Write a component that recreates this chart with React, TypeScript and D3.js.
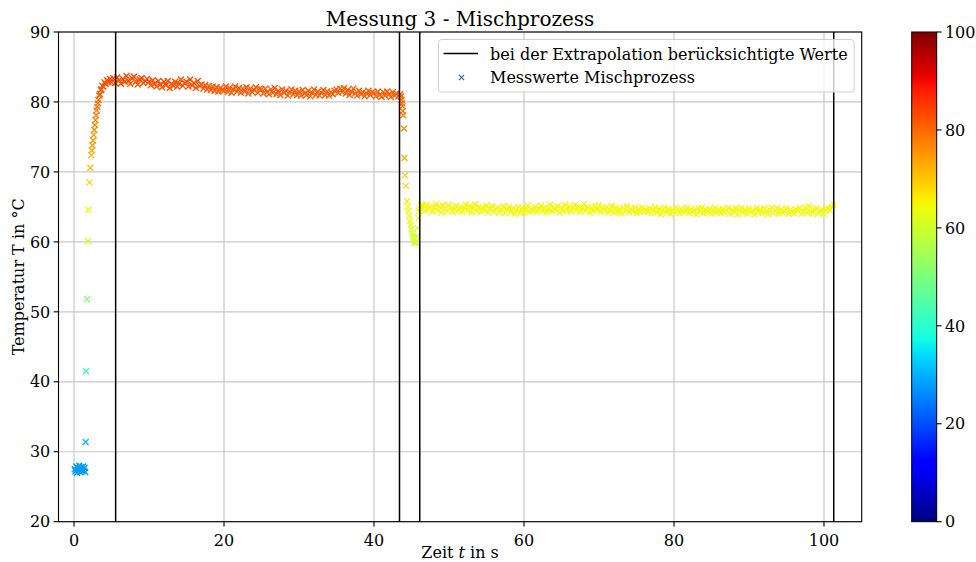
import React from "react";
import * as d3 from "d3";

// Messwerte: Anfangswerte vor dem Mischen (t, T)
const baseTimes = [0.1, 0.2, 0.3, 0.4, 0.5, 0.6, 0.7, 0.8, 0.9, 1.0, 1.1, 1.2, 1.3, 1.4, 1.5];
const baseTemps = [27.5, 27.2, 27.9, 27.0, 27.7, 27.4, 28.0, 27.1, 27.8, 27.5, 27.2, 27.9, 27.3, 27.7, 27.1];

// Anstieg nach dem Einfüllen
const riseTimes = [1.55, 1.6, 1.73, 1.87, 1.92, 2.05, 2.17, 2.3, 2.38, 2.46, 2.54, 2.62, 2.7, 2.78, 2.86, 2.94, 3.02, 3.1, 3.18, 3.26, 3.36, 3.46, 3.56, 3.66, 3.78, 3.9, 4.05, 4.2, 4.4, 4.6, 4.8];
const riseTemps = [31.4, 41.5, 51.8, 60.1, 64.6, 68.5, 70.6, 72.4, 73.1, 73.8, 74.5, 75.3, 76.0, 76.7, 77.4, 78.1, 78.8, 79.3, 79.8, 80.3, 80.9, 81.1, 81.7, 81.8, 82.3, 82.2, 82.8, 82.6, 83.1, 82.8, 83.3];

// Erstes Plateau, Abtastung alle 0,25 s ab t = 5,0 s
const plateau1Start = 5.0;
const plateau1Step = 0.25;
const plateau1Temps = [
  82.8, 83.4, 82.7, 83.5, 83.1, 82.6, 83.3, 82.9, 83.7, 83.0, 82.6, 83.4, 83.6, 82.9, 82.5, 83.2, 83.4, 82.7, 83.0, 83.3,
  82.9, 82.4, 83.1, 82.6, 82.2, 83.0, 82.5, 82.1, 82.9, 82.4, 83.0, 82.0, 82.6, 82.3, 82.9, 82.2, 82.6, 83.2, 82.3, 82.7,
  82.9, 82.2, 83.2, 82.4, 82.7, 82.0, 83.0, 82.3, 82.5, 81.9, 82.4, 81.8, 82.3, 81.7, 82.2, 81.6, 82.1, 81.5, 82.0, 81.7,
  81.6, 82.2, 81.4, 82.0, 81.3, 81.8, 82.2, 81.5, 82.0, 81.3, 81.9, 81.5, 82.1, 81.2, 81.9, 81.4, 81.7, 82.1, 81.3, 81.9,
  81.8, 81.2, 81.9, 81.4, 81.1, 81.8, 81.3, 82.0, 81.1, 81.6, 81.0, 81.8, 81.3, 81.6, 80.9, 81.4, 81.8, 81.1, 81.6, 81.0,
  81.5, 80.9, 81.7, 81.2, 81.0, 81.6, 80.8, 81.3, 81.8, 81.0, 81.5, 80.9, 81.3, 81.7, 81.0, 81.5, 80.9, 81.4, 81.1, 81.6,
  81.8, 81.3, 81.9, 81.4, 82.0, 81.2, 81.7, 81.0, 81.5, 81.9, 81.2, 80.9, 81.6, 81.1, 81.4, 80.8, 81.2, 81.6, 81.0, 81.4,
  81.3, 80.8, 81.5, 81.0, 80.7, 81.4, 80.9, 81.5, 81.1, 80.7, 81.4, 80.9, 81.2, 80.8, 81.1,
];

// Abfall beim Zumischen
const dropTimes = [43.6, 43.68, 43.75, 43.8, 43.85, 43.9, 44.0, 44.05, 44.15, 44.25, 44.4, 44.5, 44.6, 44.7, 44.8, 44.9, 45.0, 45.1, 45.2, 45.3, 45.4, 45.5, 45.6, 45.7, 45.8, 45.9, 46.0, 46.1, 46.25];
const dropTemps = [80.8, 80.3, 79.8, 79.4, 78.7, 78.1, 76.2, 72.0, 69.5, 68.0, 65.8, 65.0, 64.4, 63.7, 63.0, 62.4, 61.8, 61.2, 60.8, 60.3, 59.9, 59.8, 60.0, 60.8, 62.0, 63.4, 64.4, 64.8, 65.2];

// Zweites Plateau, Abtastung alle 0,25 s ab t = 46,5 s
const plateau2Start = 46.5;
const plateau2Step = 0.25;
const plateau2Temps = [
  65.2, 64.4, 65.3, 64.7, 65.0, 64.3, 64.9, 65.4, 64.5, 65.1, 64.2, 65.2, 64.8, 64.4, 65.3, 64.9, 64.3, 64.7, 65.1, 64.5,
  65.0, 64.3, 64.8, 65.3, 64.5, 65.1, 64.2, 64.8, 65.4, 64.4, 65.0, 64.3, 64.9, 64.6, 65.2, 64.2, 64.8, 65.1, 64.3, 64.7,
  64.9, 64.2, 64.6, 65.1, 64.1, 64.7, 65.0, 64.3, 64.8, 64.0, 64.5, 65.0, 64.2, 64.8, 64.1, 64.6, 65.2, 64.3, 64.7, 64.5,
  65.0, 64.3, 64.7, 65.2, 64.4, 64.9, 64.2, 64.7, 65.3, 64.4, 64.9, 64.6, 65.1, 64.2, 64.9, 64.4, 65.3, 64.6, 65.0, 64.3,
  64.9, 65.3, 64.5, 65.0, 64.3, 64.8, 65.4, 64.5, 65.0, 64.2, 64.9, 64.4, 65.1, 64.6, 65.2, 64.3, 64.8, 64.5, 65.0, 64.2,
  64.6, 65.1, 64.2, 64.9, 64.3, 64.7, 64.0, 64.9, 64.4, 65.1, 64.2, 64.7, 64.4, 64.9, 64.1, 64.7, 64.3, 64.9, 64.4, 64.6,
  64.3, 64.8, 64.1, 64.5, 65.0, 64.2, 64.7, 63.9, 64.5, 64.9, 64.2, 64.7, 64.0, 64.5, 64.3, 64.9, 64.4, 64.1, 64.7, 64.3,
  64.5, 64.9, 64.1, 64.7, 64.3, 64.5, 63.9, 64.8, 64.3, 64.9, 64.1, 64.6, 64.3, 64.7, 64.0, 64.5, 64.9, 64.2, 64.6, 64.1,
  64.7, 64.2, 64.5, 64.9, 64.0, 64.6, 64.3, 64.8, 63.9, 64.5, 64.9, 64.2, 64.6, 64.0, 64.7, 64.3, 64.5, 63.9, 64.8, 64.3,
  64.6, 64.1, 64.8, 64.3, 63.9, 64.6, 64.9, 64.1, 64.4, 64.8, 64.0, 64.6, 64.2, 64.4, 64.8, 64.0, 64.6, 64.3, 64.1, 64.6,
  64.4, 64.8, 64.0, 64.4, 64.9, 64.2, 65.1, 64.3, 64.0, 64.6, 64.8, 64.1, 64.4, 64.6, 64.0, 64.5, 64.8, 64.5, 65.0, 65.3,
];

// Zeitgrenzen der für die Extrapolation berücksichtigten Bereiche
const extrapolationLines = [5.55, 43.4, 46.1, 101.3];

const xTicks = [0, 20, 40, 60, 80, 100];
const yTicks = [20, 30, 40, 50, 60, 70, 80, 90];
const cbarTicks = [0, 20, 40, 60, 80, 100];

// matplotlib "jet" colormap
const jetR: [number, number][] = [[0, 0], [0.35, 0], [0.66, 1], [0.89, 1], [1, 0.5]];
const jetG: [number, number][] = [[0, 0], [0.125, 0], [0.375, 1], [0.64, 1], [0.91, 0], [1, 0]];
const jetB: [number, number][] = [[0, 0.5], [0.11, 1], [0.34, 1], [0.65, 0], [1, 0]];

function seg(pts: [number, number][], v: number) {
  for (let i = 1; i < pts.length; i++) {
    if (v <= pts[i][0]) {
      const [x0, y0] = pts[i - 1];
      const [x1, y1] = pts[i];
      return y0 + ((v - x0) / (x1 - x0)) * (y1 - y0);
    }
  }
  return pts[pts.length - 1][1];
}

function jet(v: number) {
  const c = Math.max(0, Math.min(1, v));
  return d3.rgb(seg(jetR, c) * 255, seg(jetG, c) * 255, seg(jetB, c) * 255).formatHex();
}

const W = 976;
const H = 562;
const plot = { left: 58.5, right: 861.7, top: 32, bottom: 521.7 };
const cbar = { left: 911.7, right: 936.7, top: 32, bottom: 521.7 };
const FONT = "DejaVu Serif, serif";
const FS = 16;

type Pt = { t: number; T: number };

function buildPoints(): Pt[] {
  const pts: Pt[] = [];
  baseTimes.forEach((t, i) => pts.push({ t, T: baseTemps[i] }));
  riseTimes.forEach((t, i) => pts.push({ t, T: riseTemps[i] }));
  plateau1Temps.forEach((T, i) => pts.push({ t: plateau1Start + i * plateau1Step, T }));
  dropTimes.forEach((t, i) => pts.push({ t, T: dropTemps[i] }));
  plateau2Temps.forEach((T, i) => pts.push({ t: plateau2Start + i * plateau2Step, T }));
  return pts;
}

export default function App() {
  const x = d3.scaleLinear().domain([-2.07, 105.03]).range([plot.left, plot.right]);
  const y = d3.scaleLinear().domain([20, 90]).range([plot.bottom, plot.top]);
  const cy = d3.scaleLinear().domain([0, 100]).range([cbar.bottom, cbar.top]);
  const points = buildPoints();
  const m = 3.0;
  const cross = `M${-m},${-m}L${m},${m}M${-m},${m}L${m},${-m}`;
  const stops = d3.range(0, 1.0001, 1 / 64);

  return (
    <svg width={W} height={H} style={{ position: "absolute", left: 0, top: 0, background: "#fff" }} fontFamily={FONT}>
      <defs>
        <linearGradient id="jetGrad" x1="0" y1="1" x2="0" y2="0">
          {stops.map((s, i) => (
            <stop key={i} offset={s} stopColor={jet(s)} />
          ))}
        </linearGradient>
        <clipPath id="plotClip">
          <rect x={plot.left} y={plot.top} width={plot.right - plot.left} height={plot.bottom - plot.top} />
        </clipPath>
      </defs>
      <rect x={0} y={0} width={W} height={H} fill="#fff" />

      {/* Gitter */}
      <g stroke="#c8c8c8" strokeWidth={1.2}>
        {xTicks.map((t) => (
          <line key={"gx" + t} x1={x(t)} x2={x(t)} y1={plot.top} y2={plot.bottom} />
        ))}
        {yTicks.map((t) => (
          <line key={"gy" + t} x1={plot.left} x2={plot.right} y1={y(t)} y2={y(t)} />
        ))}
      </g>

      {/* Messpunkte */}
      <g clipPath="url(#plotClip)" fill="none" strokeWidth={1.3}>
        {points.map((p, i) => (
          <path key={i} d={cross} transform={`translate(${x(p.t)},${y(p.T)})`} stroke={jet(p.T / 100)} />
        ))}
      </g>

      {/* Grenzen der Extrapolationsbereiche */}
      <g stroke="#000" strokeWidth={1.5}>
        {extrapolationLines.map((t) => (
          <line key={"v" + t} x1={x(t)} x2={x(t)} y1={plot.top} y2={plot.bottom} />
        ))}
      </g>

      {/* Achsenrahmen */}
      <rect x={plot.left} y={plot.top} width={plot.right - plot.left} height={plot.bottom - plot.top} fill="none" stroke="#000" strokeWidth={1.1} />

      {/* Achsen */}
      <g fontSize={FS} fill="#000">
        {xTicks.map((t) => (
          <g key={"xt" + t}>
            <line x1={x(t)} x2={x(t)} y1={plot.bottom} y2={plot.bottom + 4.9} stroke="#000" strokeWidth={1.1} />
            <text x={x(t)} y={plot.bottom + 24.5} textAnchor="middle">{t}</text>
          </g>
        ))}
        {yTicks.map((t) => (
          <g key={"yt" + t}>
            <line x1={plot.left - 4.9} x2={plot.left} y1={y(t)} y2={y(t)} stroke="#000" strokeWidth={1.1} />
            <text x={plot.left - 8.2} y={y(t) + 5.7} textAnchor="end">{t}</text>
          </g>
        ))}
        <text x={(plot.left + plot.right) / 2} y={557.5} textAnchor="middle">
          Zeit <tspan fontStyle="italic">t</tspan> in s
        </text>
        <text transform={`translate(24,${(plot.top + plot.bottom) / 2}) rotate(-90)`} textAnchor="middle">
          Temperatur T in °C
        </text>
      </g>

      {/* Titel */}
      <text x={(plot.left + plot.right) / 2} y={26} textAnchor="middle" fontSize={20}>
        Messung 3 - Mischprozess
      </text>

      {/* Legende */}
      <g>
        <rect x={438.5} y={39.5} width={415.7} height={52.5} rx={3} fill="#fff" fillOpacity={0.8} stroke="#d0d0d0" strokeWidth={1} />
        <line x1={443.5} x2={478} y1={53.5} y2={53.5} stroke="#000" strokeWidth={1.5} />
        <text x={490} y={59.5} fontSize={FS}>bei der Extrapolation berücksichtigte Werte</text>
        <path d={`M-2.6,-2.6L2.6,2.6M-2.6,2.6L2.6,-2.6`} transform="translate(461.5,77.5)" stroke="#1f77b4" strokeWidth={1.3} fill="none" />
        <text x={490} y={82.5} fontSize={FS}>Messwerte Mischprozess</text>
      </g>

      {/* Farbskala */}
      <rect x={cbar.left} y={cbar.top} width={cbar.right - cbar.left} height={cbar.bottom - cbar.top} fill="url(#jetGrad)" stroke="#000" strokeWidth={1} />
      <g fontSize={FS}>
        {cbarTicks.map((t) => (
          <g key={"cb" + t}>
            <line x1={cbar.right} x2={cbar.right + 4.9} y1={cy(t)} y2={cy(t)} stroke="#000" strokeWidth={1.1} />
            <text x={cbar.right + 8.2} y={cy(t) + 5.7}>{t}</text>
          </g>
        ))}
      </g>
    </svg>
  );
}
